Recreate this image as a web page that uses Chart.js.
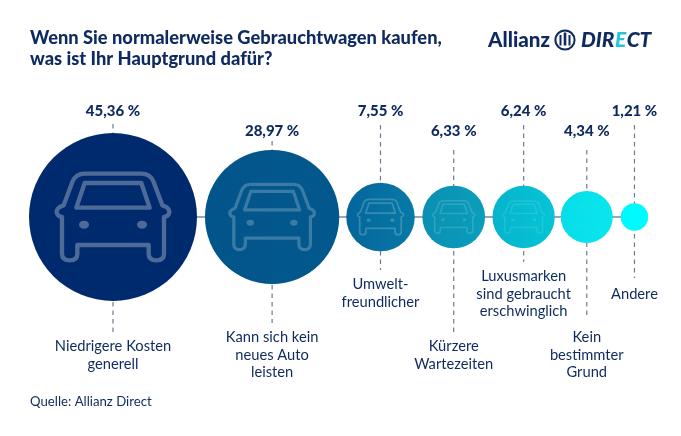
<!DOCTYPE html>
<html><head><meta charset="utf-8">
<style>html,body{margin:0;padding:0;background:#fff}canvas{display:block}</style>
<script src="https://cdn.jsdelivr.net/npm/chart.js@4"></script></head>
<body><canvas id="c" width="681" height="436"></canvas>
<script>
const categories=[["Niedrigere Kosten","generell"],["Kann sich kein","neues Auto","leisten"],["Umwelt-","freundlicher"],["Kürzere","Wartezeiten"],["Luxusmarken","sind gebraucht","erschwinglich"],["Kein","bestimmter","Grund"],["Andere"]];
const shares=[45.36,28.97,7.55,6.33,6.24,4.34,1.21];
const titleLines=["Wenn Sie normalerweise Gebrauchtwagen kaufen,","was ist Ihr Hauptgrund dafür?"];
const sourceText="Quelle: Allianz Direct";

// styling and layout (not data)
const NAVY="#0e2a5e", FONT='"Lato"';
const fillsL=["#002a6e","#02558b","#04659c","#0a8fb2","#05b4cc","#06dde8","#00f8fc"];
const fillsR=["#002a6e","#02588c","#077aa6","#0a9fbc","#06c4d6","#08e6ee","#00fcff"];
const carAlpha=[.3,.22,.2,.15,.11,.03,0];
const carScale=[1,.94,1,1,1,1,1];
const K=12.47, CY=217, X0=113, gaps=[8,7,7.6,7.4,6,8];
const topLabelY=[111,131,111,131,111,131,111];
const botLabelY=[346,337,284,346,276,337,294];
const topLead=[124,141,125,150,125,150,125];
const botLead=[332,323,270,335,262,317,278];
const radii=shares.map(v=>K*Math.sqrt(v));
const centers=[];radii.forEach((r,i)=>{centers.push(i?centers[i-1]+radii[i-1]+gaps[i-1]+r:X0)});

function carPath(c,x,y,r,a){
  const u=r/252;const P=(px,py)=>[x+px*u,y+py*u];
  c.save();c.strokeStyle=`rgba(255,255,255,${a})`;c.fillStyle=c.strokeStyle;c.lineWidth=13*u;c.lineJoin="round";c.lineCap="round";
  c.beginPath();
  const m=(px,py)=>c.moveTo(...P(px,py)),l=(px,py)=>c.lineTo(...P(px,py)),q=(a1,b1,a2,b2)=>c.quadraticCurveTo(...P(a1,b1),...P(a2,b2));
  m(-85,-130);l(85,-130);q(112,-130,122,-105);l(148,-35);l(160,-30);q(172,-22,168,-10);q(162,0,153,0);
  l(153,110);q(153,130,130,130);q(107,130,107,110);l(107,84);l(-107,84);l(-107,110);q(-107,130,-130,130);q(-153,130,-153,110);l(-153,0);
  q(-162,0,-168,-10);q(-172,-22,-160,-30);l(-148,-35);l(-122,-105);q(-112,-130,-85,-130);c.closePath();c.stroke();
  c.beginPath();m(-85,-102);l(85,-102);l(110,-28);l(-110,-28);c.closePath();c.stroke();
  for(const sx of [-1,1]){c.beginPath();c.ellipse(...P(sx*87,23),15*u,12*u,0,0,Math.PI*2);c.fill();}
  c.restore();
}

const deco={id:"deco",
 beforeDatasetsDraw(ch){
  const c=ch.ctx,xs=ch.scales.x,ys=ch.scales.y;
  c.save();c.strokeStyle="#6d7a90";c.lineWidth=1.2;c.setLineDash([4.5,4]);
  centers.forEach((x,i)=>{const px=xs.getPixelForValue(x);
    c.beginPath();c.moveTo(px,topLead[i]);c.lineTo(px,ys.getPixelForValue(CY));c.stroke();
    c.beginPath();c.moveTo(px,ys.getPixelForValue(CY));c.lineTo(px,botLead[i]);c.stroke();});
  c.restore();
 },
 afterDatasetsDraw(ch){
  const c=ch.ctx,xs=ch.scales.x,ys=ch.scales.y;
  centers.forEach((x,i)=>{if(carAlpha[i]>0)carPath(c,xs.getPixelForValue(x),ys.getPixelForValue(CY),radii[i]*carScale[i],carAlpha[i]);});
  c.save();c.fillStyle=NAVY;c.textBaseline="middle";c.textAlign="center";
  shares.forEach((v,i)=>{c.font=`900 15px ${FONT}`;c.fillText(v.toFixed(2).replace(".",",")+" %",xs.getPixelForValue(centers[i]),topLabelY[i]);
    c.font=`400 14.7px ${FONT}`;categories[i].forEach((t,j)=>c.fillText(t,xs.getPixelForValue(centers[i]),botLabelY[i]+j*17.8));});
  c.textAlign="left";c.textBaseline="alphabetic";
  c.font=`900 18.3px ${FONT}`;titleLines.forEach((t,j)=>c.fillText(t,30,44+j*21));
  c.font=`400 13.2px ${FONT}`;c.fillText(sourceText,30,406);
  // logo
  c.font=`900 20.6px ${FONT}`;c.fillText("Allianz",488,47);
  c.strokeStyle=NAVY;c.lineWidth=2;c.beginPath();c.arc(565,40,9.6,0,Math.PI*2);c.stroke();
  c.fillRect(559.5,35,2,10.5);c.fillRect(563.7,32.5,2.6,13);c.fillRect(568.5,35,2,10.5);
  c.font=`italic 900 20.9px ${FONT}`;let lx=581;
  for(const [t,col] of [["DIR",NAVY],["E","#29c4dc"],["CT",NAVY]]){c.fillStyle=col;c.fillText(t,lx,46.9);lx+=c.measureText(t).width+0.5;}
  c.restore();
 }};

new Chart(document.getElementById("c"),{
 type:"bubble",
 data:{datasets:[
  {type:"bubble",order:1,label:"Anteil",data:shares.map((v,i)=>({x:centers[i],y:CY,r:radii[i]})),borderWidth:0,hoverBorderWidth:0,
   backgroundColor(ctx){const i=ctx.dataIndex;if(i===undefined||!ctx.chart.chartArea)return fillsL[0];
    const x=ctx.chart.scales.x.getPixelForValue(centers[i]),g=ctx.chart.ctx.createLinearGradient(x-radii[i],0,x+radii[i],0);
    g.addColorStop(0,fillsL[i]);g.addColorStop(1,fillsR[i]);return g;}},
  {type:"line",order:2,label:"Achse",data:centers.map(x=>({x,y:CY})),borderColor:"#7d8798",borderWidth:1.3,pointRadius:0,fill:false}
 ]},
 options:{responsive:false,animation:false,devicePixelRatio:1,
  layout:{padding:0,autoPadding:false},
  plugins:{legend:{display:false},tooltip:{enabled:false},title:{display:false}},
  scales:{x:{type:"linear",min:0,max:681,display:false},y:{type:"linear",min:0,max:436,reverse:true,display:false}}
 },plugins:[deco]});
</script></body></html>
